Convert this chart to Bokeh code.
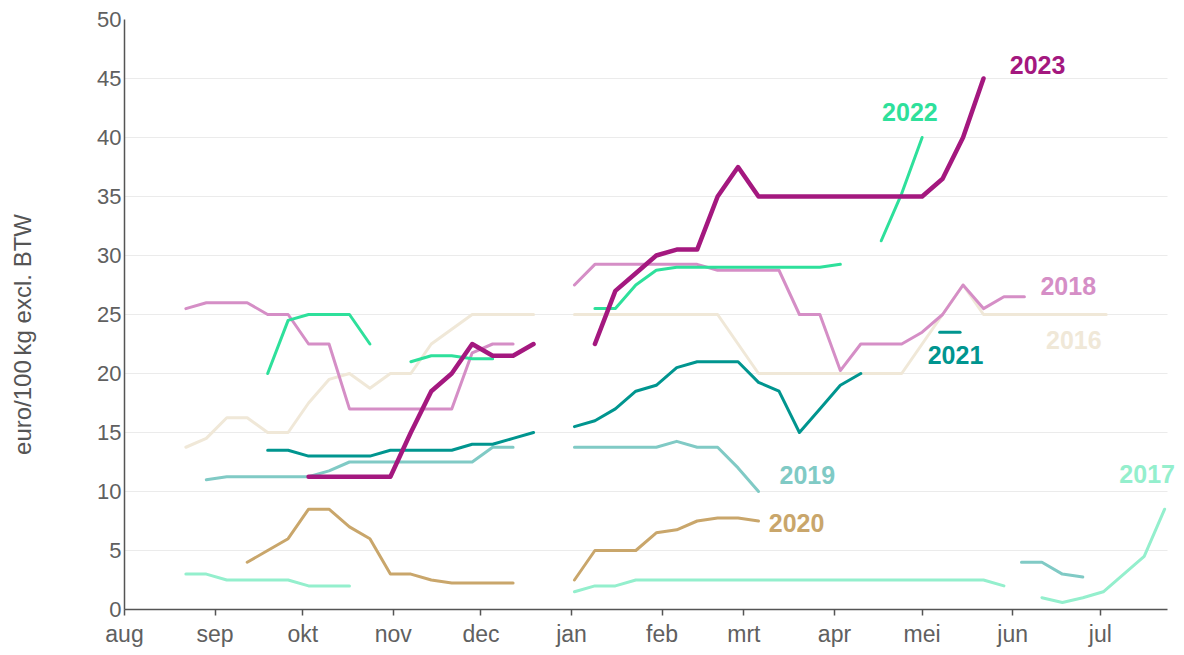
import datetime as dt
from bokeh.plotting import figure
from bokeh.models import Range1d, FixedTicker, Label
from bokeh.embed import file_html
from bokeh.resources import INLINE

# ---------------- data ----------------
month_labels = ["aug", "sep", "okt", "nov", "dec", "jan", "feb", "mrt", "apr", "mei", "jun", "jul"]
month_first = ["08-01", "09-01", "10-01", "11-01", "12-01", "01-01", "02-01", "03-01",
               "04-01", "05-01", "06-01", "07-01"]
y_ticks = [0, 5, 10, 15, 20, 25, 30, 35, 40, 45, 50]

# weekly prices (euro/100 kg excl. BTW); each segment = first week (MM-DD) + weekly prices
s2016_a_start = "08-22"
s2016_a = [13.75, 14.5, 16.25, 16.25, 15, 15, 17.5, 19.5, 20, 18.75, 20, 20, 22.5, 23.75, 25, 25, 25, 25]
s2016_b_start = "01-02"
s2016_b = [25, 25, 25, 25, 25, 25, 25, 25, 22.5, 20, 20, 20, 20, 20, 20, 20, 20, 22.5, 25, 27.5,
           25, 25, 25, 25, 25, 25, 25]

s2017_a_start = "08-22"
s2017_a = [3, 3, 2.5, 2.5, 2.5, 2.5, 2, 2, 2]
s2017_b_start = "01-02"
s2017_b = [1.5, 2, 2, 2.5, 2.5, 2.5, 2.5, 2.5, 2.5, 2.5, 2.5, 2.5, 2.5, 2.5, 2.5, 2.5, 2.5, 2.5,
           2.5, 2.5, 2.5, 2]
s2017_c_start = "06-11"
s2017_c = [1, 0.6, 1, 1.5, 3, 4.5, 8.5]

s2018_a_start = "08-22"
s2018_a = [25.5, 26, 26, 26, 25, 25, 22.5, 22.5, 17, 17, 17, 17, 17, 17, 21.75, 22.5, 22.5]
s2018_b_start = "01-02"
s2018_b = [27.5, 29.25, 29.25, 29.25, 29.25, 29.25, 29.25, 28.75, 28.75, 28.75, 28.75, 25, 25,
           20.25, 22.5, 22.5, 22.5, 23.5, 25, 27.5, 25.5, 26.5, 26.5]

s2019_a_start = "08-29"
s2019_a = [11, 11.25, 11.25, 11.25, 11.25, 11.25, 11.75, 12.5, 12.5, 12.5, 12.5, 12.5, 12.5, 12.5,
           13.75, 13.75]
s2019_b_start = "01-02"
s2019_b = [13.75, 13.75, 13.75, 13.75, 13.75, 14.25, 13.75, 13.75, 12, 10]
s2019_c_start = "06-04"
s2019_c = [4, 4, 3, 2.75]

s2020_a_start = "09-12"
s2020_a = [4, 5, 6, 8.5, 8.5, 7, 6, 3, 3, 2.5, 2.25, 2.25, 2.25, 2.25]
s2020_b_start = "01-02"
s2020_b = [2.5, 5, 5, 5, 6.5, 6.75, 7.5, 7.75, 7.75, 7.5]

s2021_a_start = "09-19"
s2021_a = [13.5, 13.5, 13, 13, 13, 13, 13.5, 13.5, 13.5, 13.5, 14, 14, 14.5, 15]
s2021_b_start = "01-02"
s2021_b = [15.5, 16, 17, 18.5, 19, 20.5, 21, 21, 21, 19.25, 18.5, 15, 17, 19, 20]
s2021_c_start = "05-07"
s2021_c = [23.5, 23.5]

s2022_a_start = "09-19"
s2022_a = [20, 24.5, 25, 25, 25, 22.5]
s2022_b_start = "11-07"
s2022_b = [21, 21.5, 21.5, 21.25, 21.25]
s2022_c_start = "01-09"
s2022_c = [25.5, 25.5, 27.5, 28.75, 29, 29, 29, 29, 29, 29, 29, 29, 29.25]
s2022_d_start = "04-17"
s2022_d = [31.25, 35.25, 40]

s2023_a_start = "10-03"
s2023_a = [11.25, 11.25, 11.25, 11.25, 11.25, 15, 18.5, 20, 22.5, 21.5, 21.5, 22.5]
s2023_b_start = "01-09"
s2023_b = [22.5, 27, 28.5, 30, 30.5, 30.5, 35, 37.5, 35, 35, 35, 35, 35, 35, 35, 35, 35, 36.5, 40, 45]

# ---------------- styling ----------------
FONT = "Liberation Sans"
colors = {
    "2016": "#f0e8d8", "2017": "#94efcd", "2018": "#d58ec6", "2019": "#80cac5",
    "2020": "#c9a66b", "2021": "#00958f", "2022": "#2ee09b", "2023": "#a4187f",
}
widths = {"2016": 3, "2017": 3, "2018": 3, "2019": 3, "2020": 3, "2021": 3, "2022": 3, "2023": 4.5}
label_pos = {
    "2023": (303.0, 46.12), "2022": (259.3, 42.12), "2018": (313.5, 27.42), "2016": (315.4, 22.82),
    "2021": (274.9, 21.57), "2019": (224.2, 11.37), "2020": (220.5, 7.36), "2017": (340.5, 11.52),
}
X_END = 360.4      # right edge of plotting area (days since 1 Aug)
AXIS_END = 357     # where the axis line / grid lines stop


def season_day(md):
    m, d = (int(v) for v in md.split("-"))
    year = 2021 if m >= 8 else 2022
    return (dt.date(year, m, d) - dt.date(2021, 8, 1)).days


series = {
    "2016": [(s2016_a_start, s2016_a), (s2016_b_start, s2016_b)],
    "2017": [(s2017_a_start, s2017_a), (s2017_b_start, s2017_b), (s2017_c_start, s2017_c)],
    "2018": [(s2018_a_start, s2018_a), (s2018_b_start, s2018_b)],
    "2019": [(s2019_a_start, s2019_a), (s2019_b_start, s2019_b), (s2019_c_start, s2019_c)],
    "2020": [(s2020_a_start, s2020_a), (s2020_b_start, s2020_b)],
    "2021": [(s2021_a_start, s2021_a), (s2021_b_start, s2021_b), (s2021_c_start, s2021_c)],
    "2022": [(s2022_a_start, s2022_a), (s2022_b_start, s2022_b), (s2022_c_start, s2022_c),
             (s2022_d_start, s2022_d)],
    "2023": [(s2023_a_start, s2023_a), (s2023_b_start, s2023_b)],
}

p = figure(width=1177, height=649, output_backend="svg", toolbar_location=None,
           x_range=Range1d(0, X_END), y_range=Range1d(0, 50),
           min_border_left=124, min_border_right=0, min_border_top=19, min_border_bottom=40)
p.outline_line_color = None
p.background_fill_color = "white"

for year, segs in series.items():
    for start, vals in segs:
        d0 = season_day(start)
        xs = [d0 + 7 * i for i in range(len(vals))]
        p.line(xs, vals, line_color=colors[year], line_width=widths[year],
               line_cap="round", line_join="round")

for year, (lx, ly) in label_pos.items():
    p.add_layout(Label(x=lx, y=ly, text=year, text_color=colors[year], text_font=FONT,
                       text_font_style="bold", text_font_size="25px", text_baseline="alphabetic",
                       text_align="left"))

# grid
p.xgrid.grid_line_color = None
p.ygrid.grid_line_color = "#ebebeb"
p.ygrid.grid_line_width = 1
p.ygrid.ticker = FixedTicker(ticks=y_ticks)
try:
    p.ygrid.cross_bounds = (0, AXIS_END)
except Exception:
    pass

# x axis
tick_days = [season_day(m) for m in month_first]
p.xaxis.ticker = FixedTicker(ticks=tick_days)
p.xaxis.major_label_overrides = {d: lab for d, lab in zip(tick_days, month_labels)}
p.xaxis.bounds = (0, AXIS_END)
p.xaxis.axis_line_color = "#555555"
p.xaxis.axis_line_width = 1.5
p.xaxis.major_tick_line_color = "#555555"
p.xaxis.major_tick_line_width = 1.5
p.xaxis.major_tick_in = 0
p.xaxis.major_tick_out = 6
p.xaxis.minor_tick_line_color = None
p.xaxis.major_label_text_font = FONT
p.xaxis.major_label_text_font_size = "23px"
p.xaxis.major_label_text_color = "#606060"
p.xaxis.major_label_standoff = 5

# y axis
p.yaxis.ticker = FixedTicker(ticks=y_ticks)
p.yaxis.axis_line_color = "#555555"
p.yaxis.axis_line_width = 1.5
p.yaxis.major_tick_line_color = None
p.yaxis.major_tick_in = 0
p.yaxis.major_tick_out = 0
p.yaxis.minor_tick_line_color = None
p.yaxis.minor_tick_out = 0
p.yaxis.major_label_text_font = FONT
p.yaxis.major_label_text_font_size = "22px"
p.yaxis.major_label_text_color = "#606060"
p.yaxis.major_label_standoff = 3
p.yaxis.axis_label = "euro/100\u2009kg excl. BTW" + "\u00a0" * 6
p.yaxis.axis_label_text_font = FONT
p.yaxis.axis_label_text_font_size = "24px"
p.yaxis.axis_label_text_font_style = "normal"
p.yaxis.axis_label_text_color = "#555555"
p.yaxis.axis_label_standoff = 58

open("out.html", "w").write(file_html(p, INLINE))
